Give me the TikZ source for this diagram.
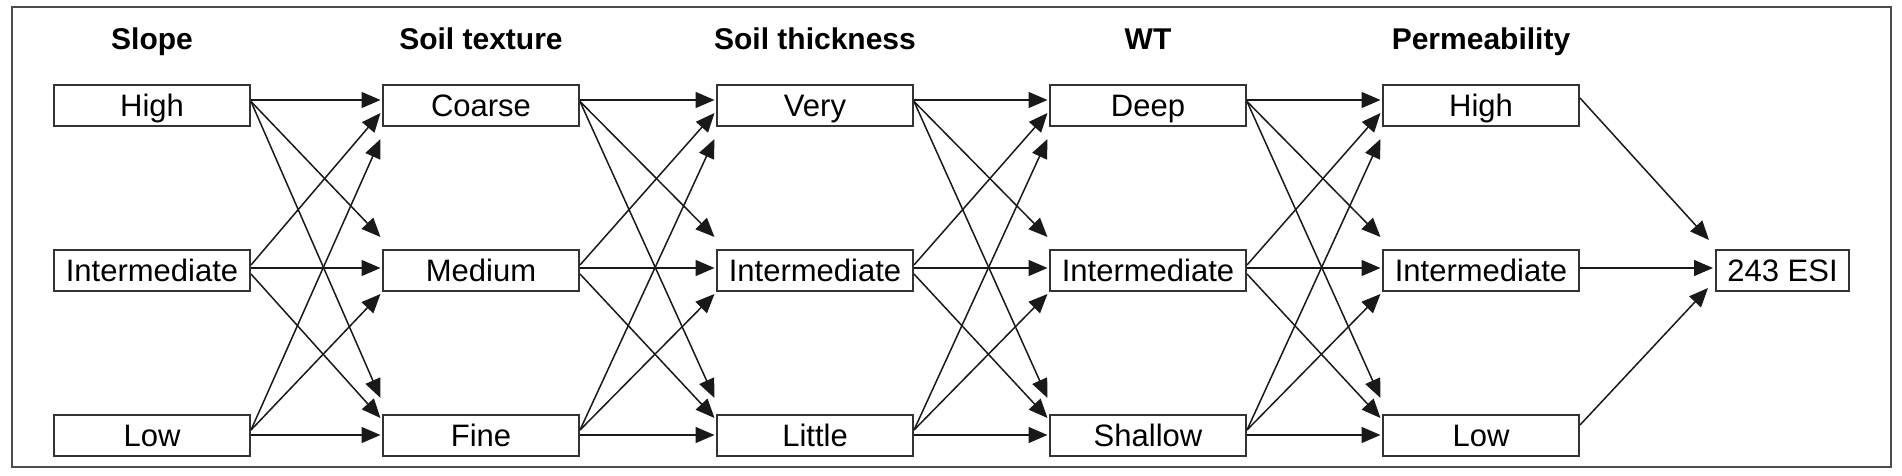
\documentclass[tikz,border=0pt]{standalone}
\usepackage{fontspec}
\setmainfont{Liberation Sans}
\usetikzlibrary{arrows.meta,calc}
\begin{document}
\begin{tikzpicture}[x=0.5pt,y=-0.5pt,
  box/.style={draw=black!80,line width=1pt,minimum width=98pt,minimum height=20.5pt,inner sep=0pt,
    text height=11.1pt,text depth=0pt,
    font=\fontsize{15.5pt}{18pt}\selectfont,text=black},
  ttl/.style={anchor=base,inner sep=0pt,font=\fontsize{15pt}{18pt}\selectfont\bfseries,text=black},
  conn/.style={draw=black!90,line width=0.75pt,-{Triangle[length=9.5pt,width=8pt]}}]
\useasboundingbox (0,0) rectangle (1902,476);
\draw[draw=black!70,line width=1pt] (12,7) rectangle (1891,467);
% titles
\node[ttl] (t1) at (152,50) {Slope};
\node[ttl] (t2) at (481,50) {Soil texture};
\node[ttl] (t3) at (815,50) {Soil thickness};
\node[ttl] (t4) at (1148,50) {WT};
\node[ttl] (t5) at (1481,50) {Permeability};
% boxes
\node[box] (a1) at (152,105.5) {High};
\node[box] (a2) at (152,270) {Intermediate};
\node[box] (a3) at (152,435) {Low};
\node[box] (b1) at (481,105.5) {Coarse};
\node[box] (b2) at (481,270) {Medium};
\node[box] (b3) at (481,435) {Fine};
\node[box] (c1) at (815,105.5) {Very};
\node[box] (c2) at (815,270) {Intermediate};
\node[box] (c3) at (815,435) {Little};
\node[box] (d1) at (1148,105.5) {Deep};
\node[box] (d2) at (1148,270) {Intermediate};
\node[box] (d3) at (1148,435) {Shallow};
\node[box] (e1) at (1481,105.5) {High};
\node[box] (e2) at (1481,270) {Intermediate};
\node[box] (e3) at (1481,435) {Low};
\node[box,minimum width=66.5pt] (f) at (1782.5,270) {243 ESI};
% connectors between columns
\foreach \s/\t in {a/b,b/c,c/d,d/e}{
  \foreach \i in {1,2,3}{
    \foreach \j in {1,2,3}{
      \pgfmathtruncatemacro\k{3*(\i-1)+(\j-1)}
      \pgfmathsetmacro\so{{-5.5,-4,-4,-5,-2,4,-5,-5,0}[\k]}
      \pgfmathsetmacro\to{{-5.5,-33,-37,7.5,-2,-17,33.5,24,0}[\k]}
      \draw[conn] ($(\s\i.east)+(0,\so)$) -- ($(\t\j.west)+(-1.5,\to)$);
    }
  }
}
% to ESI
\draw[conn] ($(e1.east)+(0,-7.5)$) -- ($(f.west)+(-6,-30)$);
\draw[conn] ($(e2.east)+(0,-2)$) -- ($(f.west)+(-2,-2)$);
\draw[conn] ($(e3.east)+(0,-10)$) -- ($(f.west)+(-7,18)$);
\end{tikzpicture}
\end{document}
